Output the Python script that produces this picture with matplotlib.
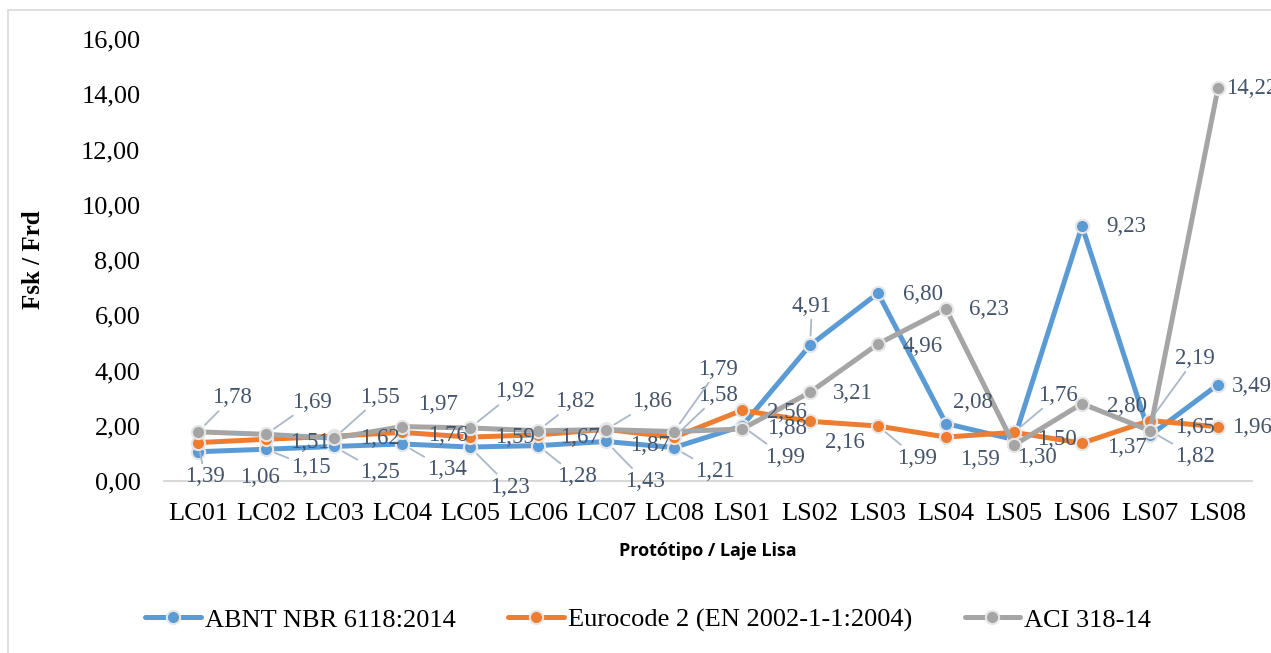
import matplotlib
matplotlib.use("Agg")
import matplotlib.pyplot as plt
from matplotlib.patches import Rectangle

# Dados
prototipos = ["LC01", "LC02", "LC03", "LC04", "LC05", "LC06", "LC07", "LC08",
              "LS01", "LS02", "LS03", "LS04", "LS05", "LS06", "LS07", "LS08"]
abnt = [1.06, 1.15, 1.25, 1.34, 1.23, 1.28, 1.43, 1.21,
        1.99, 4.91, 6.80, 2.08, 1.50, 9.23, 1.65, 3.49]
eurocode = [1.39, 1.51, 1.62, 1.76, 1.59, 1.67, 1.87, 1.58,
            2.56, 2.16, 1.99, 1.59, 1.76, 1.37, 2.19, 1.96]
aci = [1.78, 1.69, 1.55, 1.97, 1.92, 1.82, 1.86, 1.79,
       1.88, 3.21, 4.96, 6.23, 1.30, 2.80, 1.82, 14.22]
nomes = ["ABNT NBR 6118:2014", "Eurocode 2 (EN 2002-1-1:2004)", "ACI 318-14"]
y_ticks = [0, 2, 4, 6, 8, 10, 12, 14, 16]

cores = ["#5B9BD5", "#ED7D31", "#A5A5A5"]
cor_rotulo = "#44546A"
cor_guia = "#A9B8C9"

# posição dos rótulos (deslocamento em pixels, y para baixo) e se tem linha guia
desl_abnt = [(62, 26), (45, 18), (46, 26), (45, 26), (40, 40), (39, 31), (39, 40), (41, 24),
             (43, 31), (2, -39), (45, 1), (27, -21), (43, 0), (44, 0), (45, -8), (34, 2)]
guia_abnt = [0, 1, 1, 1, 1, 1, 1, 1, 1, 1, 0, 0, 0, 0, 0, 0]
desl_euro = [(7, 34), (44, 3), (46, 2), (46, 3), (45, 0), (42, 3), (44, 16), (44, -42),
             (45, 2), (35, 21), (39, 32), (34, 22), (44, -37), (45, 4), (45, -62), (34, 1)]
guia_euro = [1, 0, 0, 0, 0, 0, 0, 1, 0, 0, 1, 0, 1, 0, 1, 0]
desl_aci = [(34, -34), (46, -32), (46, -41), (36, -22), (45, -36), (37, -29), (46, -28), (44, -62),
            (45, -1), (43, 1), (45, 3), (43, 1), (23, 12), (45, 3), (45, 26), (34, 0)]
guia_aci = [1, 1, 1, 0, 1, 1, 1, 1, 0, 0, 0, 0, 0, 0, 1, 0]

serif = ["Liberation Serif", "DejaVu Serif"]

fig = plt.figure(figsize=(12.71, 6.53), dpi=100)
ax = fig.add_axes([164 / 1271, 172 / 653, (1252 - 164) / 1271, (614 - 172) / 653])

x = list(range(len(prototipos)))
series = [(abnt, desl_abnt, guia_abnt), (eurocode, desl_euro, guia_euro), (aci, desl_aci, guia_aci)]
for (valores, desl, guia), cor, nome in zip(series, cores, nomes):
    ax.plot(x, valores, color=cor, lw=3.6, marker="o", markersize=9.5,
            markeredgecolor="#E6E6E6", markeredgewidth=1.5, label=nome,
            solid_capstyle="round", solid_joinstyle="round", clip_on=False)
    for xi, v, d, g in zip(x, valores, desl, guia):
        props = None
        if g:
            props = dict(arrowstyle="-", color=cor_guia, lw=1.3, shrinkA=0, shrinkB=7)
        ax.annotate(f"{v:.2f}".replace(".", ","), (xi, v), xytext=(d[0], -d[1]),
                    textcoords="offset pixels", ha="center", va="center",
                    fontsize=16.5, family=serif, color=cor_rotulo,
                    arrowprops=props, annotation_clip=False, zorder=5)

ax.set_xlim(-0.5, len(prototipos) - 0.5)
ax.set_ylim(0, 16)
ax.set_xticks(x)
ax.set_xticklabels(prototipos, family=serif, fontsize=19)
ax.set_yticks(y_ticks)
ax.set_yticklabels([f"{t:.2f}".replace(".", ",") for t in y_ticks], family=serif, fontsize=19)
ax.tick_params(length=0)
ax.tick_params(axis="x", pad=16)
ax.tick_params(axis="y", pad=17)
for lado in ["top", "right", "left"]:
    ax.spines[lado].set_visible(False)
ax.spines["bottom"].set_color("#D9D9D9")
ax.spines["bottom"].set_linewidth(1.5)

fig.text(33 / 1271, 1 - 260 / 653, "Fsk / Frd", rotation=90, ha="center", va="center",
         family=serif, fontsize=18, fontweight="bold")
fig.text(708 / 1271, 1 - 551 / 653, "Protótipo / Laje Lisa", ha="center", va="center",
         family=["Open Sans", "DejaVu Sans"], fontsize=13, fontweight="bold")

leg = fig.legend(loc="center", bbox_to_anchor=(648 / 1271, 1 - 620 / 653), ncol=3, frameon=False,
                 prop={"family": serif, "size": 19}, handlelength=2.1, handletextpad=0.15,
                 columnspacing=2.0)

# borda da área do gráfico
fig.patches.append(Rectangle((8 / 1271, -0.1), 1.2, 1.1 - 10 / 653, transform=fig.transFigure,
                             fill=False, edgecolor="#D9D9D9", lw=1.2))

fig.savefig("out.png", dpi=100)
